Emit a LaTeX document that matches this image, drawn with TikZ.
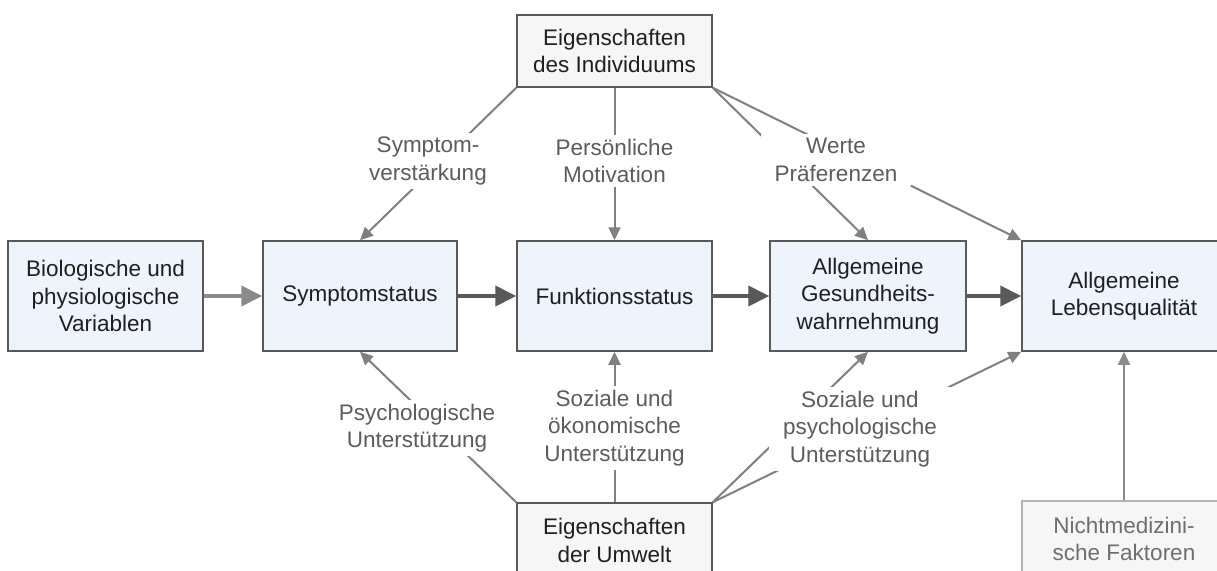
\documentclass[tikz,border=0pt]{standalone}
\usepackage{fontspec}
\setmainfont{Liberation Sans}
\usetikzlibrary{arrows.meta}
\definecolor{boxblue}{HTML}{EEF4FB}
\definecolor{boxgrey}{HTML}{F6F6F6}
\definecolor{edgegrey}{HTML}{595959}
\definecolor{flowlight}{HTML}{8A8A8A}
\definecolor{linkgrey}{HTML}{808080}
\definecolor{labelgrey}{HTML}{5C5C5C}
\definecolor{faintedge}{HTML}{B4B4B4}
\definecolor{fainttext}{HTML}{6E6E6E}
\begin{document}
\begin{tikzpicture}[x=1pt,y=-1pt,
  every node/.style={font=\fontsize{22.5}{27.5}\selectfont, align=center},
  stage/.style={draw=edgegrey, line width=1.5pt, fill=boxblue, text=black!88, minimum height=110pt},
  source/.style={draw=edgegrey, line width=1.5pt, fill=boxgrey, text=black!88, minimum width=195pt},
  outside/.style={draw=faintedge, line width=1.5pt, fill=boxgrey, text=fainttext, minimum width=204pt},
  note/.style={fill=white, text=labelgrey, inner xsep=14pt, inner ysep=4pt},
  flow/.style={line width=4pt, draw=edgegrey, -{Triangle[length=21pt,width=20pt]}},
  link/.style={line width=2pt, draw=linkgrey, -{Triangle[length=13pt,width=12pt]}}]
\useasboundingbox (0,0) rectangle (1217,570);
\clip (0,0) rectangle (1217,570);

% main chain
\node[stage, minimum width=195pt] (bio)  at (105.5,296) {Biologische und\\physiologische\\Variablen};
\node[stage, minimum width=194pt] (symp) at (360,296)   {Symptomstatus};
\node[stage, minimum width=195pt] (funk) at (614.5,296) {Funktionsstatus};
\node[stage, minimum width=196pt] (ges)  at (868,296)   {Allgemeine\\Gesundheits-\\wahrnehmung};
\node[stage, minimum width=204pt] (leb)  at (1124,296)  {Allgemeine\\Lebensqualität};

% influencing characteristics
\node[source, minimum height=72pt] (ind) at (614.5,51)  {Eigenschaften\\des Individuums};
\node[source, minimum height=75pt] (umw) at (614.5,540.5) {Eigenschaften\\der Umwelt};
\node[outside, minimum height=76pt] (nicht) at (1124,539) {Nichtmedizini-\\sche Faktoren};

% main flow
\draw[flow, draw=flowlight] (bio) -- (symp);
\draw[flow] (symp) -- (funk);
\draw[flow] (funk) -- (ges);
\draw[flow] (ges) -- (leb);

% links from the individual
\draw[link] (ind.south west) -- (symp.north);
\draw[link] (ind.south) -- (funk.north);
\draw[link] (ind.south east) -- (ges.north);
\draw[link] (ind.south east) -- (leb.north west);

% links from the environment
\draw[link] (umw.north west) -- (symp.south);
\draw[link] (umw.north) -- (funk.south);
\draw[link] (umw.north east) -- (ges.south);
\draw[link] (umw.north east) -- (leb.south west);

\draw[link, draw=flowlight] (nicht) -- (leb);

% link labels
\node[note] (n1) at (428,161)   {Symptom-\\verstärkung};
\node[note] (n2) at (614.5,161) {Persönliche\\Motivation};
\node[note] (n3) at (836,160)   {Werte\\Präferenzen};
\node[note] (n4) at (417,428)   {Psychologische\\Unterstützung};
\node[note] (n5) at (614.5,428) {Soziale und\\ökonomische\\Unterstützung};
\node[note] (n6) at (860,429)   {Soziale und\\psychologische\\Unterstützung};
\end{tikzpicture}
\end{document}
